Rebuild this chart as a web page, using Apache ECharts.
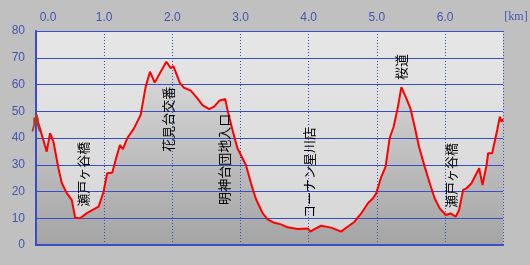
<!DOCTYPE html>
<html>
<head>
<meta charset="utf-8">
<script src="https://cdn.jsdelivr.net/npm/echarts@6/dist/echarts.min.js"></script>
<style>
html,body{margin:0;padding:0;background:#c0c0c0;}
#chart{width:530px;height:265px;}
</style>
</head>
<body>
<div id="chart"></div>
<script>
// distance (km) and elevation (m)
var distKm = [0.00,0.157,0.206,0.256,0.329,0.378,0.451,0.525,0.574,0.647,0.746,0.918,0.991,1.044,1.118,1.168,1.231,1.275,1.338,1.437,1.535,1.609,1.672,1.741,1.829,1.912,1.976,2.015,2.113,2.172,2.27,2.368,2.441,2.54,2.613,2.687,2.775,2.809,2.882,2.956,3.079,3.153,3.226,3.324,3.397,3.496,3.594,3.69,3.838,3.985,4.025,4.084,4.182,4.329,4.476,4.525,4.672,4.77,4.868,4.941,4.99,5.065,5.128,5.187,5.246,5.309,5.359,5.432,5.491,5.554,5.618,5.701,5.775,5.849,5.922,6.01,6.079,6.157,6.206,6.265,6.315,6.388,6.5,6.55,6.609,6.632,6.691,6.765,6.804,6.829,6.85];
var elevM = [48.6,34.9,41.8,38.6,28.7,23.2,19.4,16.8,10.2,10.0,11.9,14.3,19.9,26.8,27.0,31.8,37.4,35.8,39.9,43.6,48.6,59.2,64.8,60.7,64.8,68.5,66.1,66.9,60.4,58.8,57.7,54.8,52.3,50.8,51.7,53.9,54.6,50.5,43.0,36.1,29.9,23.1,17.2,11.9,9.6,8.3,7.7,6.6,6.0,6.2,5.0,5.9,7.2,6.5,5.0,6.0,8.7,11.8,15.6,17.4,19.3,25.5,29.3,39.9,44.2,51.7,59.0,54.8,51.1,44.2,36.7,29.3,23.1,17.4,13.7,11.2,11.8,10.6,13.1,20.6,21.2,23.1,28.7,22.4,29.9,34.3,34.3,43.0,48.0,46.1,47.0];
// landmarks: name, km, elevation at the lower end of the text
var landmarkNames = ['瀬戸ヶ谷橋','花見台交番','明神台団地入口','コーナン星川店','桜道','瀬戸ヶ谷橋'];
var landmarkKm = [0.688,1.937,2.76,4.01,5.356,6.09];
var landmarkElev = [14.3,34.9,15.0,10.1,61.7,13.8];
var xTickLabels = ['0.0','1.0','2.0','3.0','4.0','5.0','6.0'];
var yTickLabels = ['0','10','20','30','40','50','60','70','80'];

var pts = distKm.map(function(d,i){return [d, elevM[i]];});
var blue = '#3a4ec4';
var labelBlue = '#4455b0';

var chart = echarts.init(document.getElementById('chart'), null, {renderer:'canvas'});
chart.setOption({
  animation:false,
  backgroundColor:'#c0c0c0',
  grid:{left:36,right:27,top:31,bottom:20,show:true,borderWidth:0,
    backgroundColor:new echarts.graphic.LinearGradient(0,0,0,1,[{offset:0,color:'#e6e6e6'},{offset:1,color:'#d6d6d6'}])},
  xAxis:[{
    type:'value',position:'top',min:0,max:6.85,interval:1,z:2,
    axisLine:{show:true,lineStyle:{color:blue,width:2}},
    axisTick:{show:false},
    axisLabel:{show:true,margin:7,color:labelBlue,fontSize:12,fontFamily:'Liberation Sans',showMaxLabel:false,
      formatter:function(v){var i=Math.round(v); if(Math.abs(v-i)>1e-6) return ''; return i===0?'{z|'+xTickLabels[0]+'}':xTickLabels[i];},
      rich:{z:{padding:[0,0,0,24],color:labelBlue,fontSize:12,fontFamily:'Liberation Sans'}}},
    splitLine:{show:true,lineStyle:{color:blue,width:1,type:[1,2]}}
  },{
    type:'value',position:'bottom',min:0,max:6.85,z:2,
    axisLine:{show:true,lineStyle:{color:blue,width:2}},
    axisTick:{show:false},axisLabel:{show:false},splitLine:{show:false}
  }],
  yAxis:[{
    type:'value',min:0,max:80,interval:10,z:2,offset:1,
    axisLine:{show:true,lineStyle:{color:'#ffffff',width:1}},
    axisTick:{show:false},
    axisLabel:{margin:10,color:labelBlue,fontSize:12,fontFamily:'Liberation Sans',
      formatter:function(v){return yTickLabels[Math.round(v/10)];}},
    splitLine:{show:true,lineStyle:{color:blue,width:1}}
  },{
    type:'value',position:'right',min:0,max:80,z:2,
    axisLine:{show:true,lineStyle:{color:blue,width:2}},
    axisTick:{show:false},axisLabel:{show:false},splitLine:{show:false}
  }],
  graphic:[{type:'text',x:516,y:17,z:10,style:{text:'[km]',fill:labelBlue,font:'12px "Liberation Serif"',textAlign:'center',textVerticalAlign:'middle'}}],
  series:[{
    type:'line',data:pts,symbol:'none',z:1,silent:true,
    lineStyle:{width:0},
    areaStyle:{opacity:1,color:new echarts.graphic.LinearGradient(0,31,0,245,[{offset:0,color:'#e4e4e4'},{offset:1,color:'#a4a4a4'}],true)}
  },{
    type:'line',data:pts,symbol:'none',z:3,silent:true,
    lineStyle:{color:'#ff0000',width:2},
    markPoint:{
      silent:true,symbol:'circle',symbolSize:0,
      label:{show:true,position:'inside',formatter:'{b}',rotate:90,align:'left',verticalAlign:'middle',
        color:'#000',fontSize:13,fontFamily:'Noto Sans CJK JP'},
      data:landmarkNames.map(function(n,i){return {name:n,coord:[landmarkKm[i],landmarkElev[i]]};}).concat([
        {name:'',coord:[0,45.6],symbol:'path://M4,0h3v3h-3z M2,3h6v7h-6z M2,10h2l-2,7h-2z M6,10h2l2,7h-2z',symbolSize:[9,17],itemStyle:{color:'#a83a2a'},label:{show:false}}
      ])
    }
  }]
});
</script>
</body>
</html>
